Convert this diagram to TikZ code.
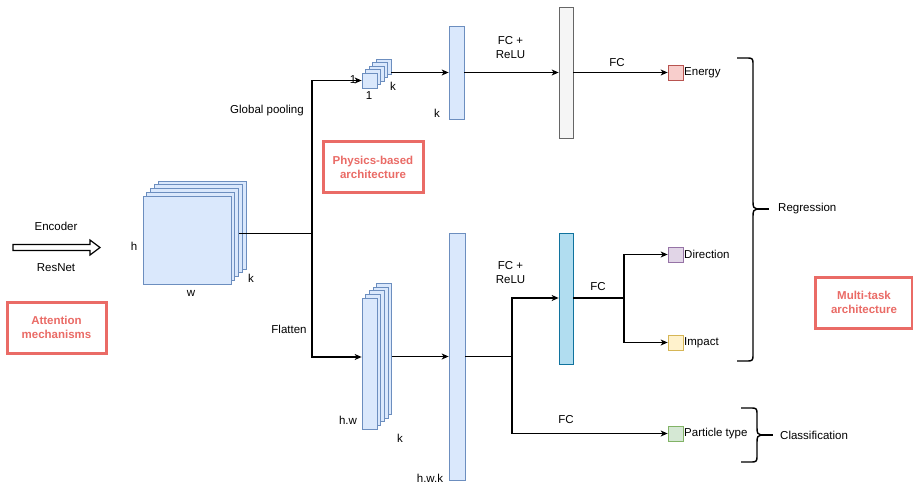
\documentclass[tikz,border=0pt]{standalone}
\usepackage{fontspec}
\setmainfont{Liberation Sans}
\usetikzlibrary{arrows.meta,calc}
\definecolor{bfill}{HTML}{DAE8FC}
\definecolor{bstroke}{HTML}{6C8EBF}
\definecolor{gfill}{HTML}{F5F5F5}
\definecolor{gstroke}{HTML}{666666}
\definecolor{cfill}{HTML}{B1DDF0}
\definecolor{cstroke}{HTML}{10739E}
\definecolor{rfill}{HTML}{F8CECC}
\definecolor{rstroke}{HTML}{B85450}
\definecolor{pfill}{HTML}{E1D5E7}
\definecolor{pstroke}{HTML}{9673A6}
\definecolor{yfill}{HTML}{FFF2CC}
\definecolor{ystroke}{HTML}{D6B656}
\definecolor{nfill}{HTML}{D5E8D4}
\definecolor{nstroke}{HTML}{82B366}
\definecolor{redbox}{HTML}{EA6B66}
\begin{document}
\begin{tikzpicture}[x=1pt,y=-1pt,
  lbl/.style={inner sep=0pt, font=\fontsize{11.5}{14}\selectfont, align=center},
  ln/.style={line width=1.2pt, black, line join=miter},
  arr/.style={ln, -{Stealth[length=7pt,width=6pt,inset=2pt]}},
  sz/.style 2 args={rectangle, inner sep=0pt, minimum width=#1, minimum height=#2},
  layer/.style={draw=bstroke, fill=bfill, line width=0.7pt},
  greybar/.style={draw=gstroke, fill=gfill, line width=0.7pt},
  cyanbar/.style={draw=cstroke, fill=cfill, line width=0.7pt},
  redframe/.style={draw=redbox, line width=3pt, fill=white, sz={99pt}{51pt},
    text=redbox, font=\bfseries\fontsize{11.5}{14}\selectfont, align=center},
  brace/.style={line width=1.4pt, black}
]
\useasboundingbox (0,0) rectangle (913,484);
\clip (0,0) rectangle (913,484);
\fill[white] (0,0) rectangle (913,484);

% encoder arrow
\draw[line width=1.2pt, fill=white] (13,244.5) -- (90,244.5) -- (90,240) -- (100,247.5)
  -- (90,255) -- (90,250.5) -- (13,250.5) -- cycle;
\node[lbl] (enc) at (56,226) {Encoder};
\node[lbl] (res) at (56,268) {ResNet};

\node[redframe] (att) at (56.5,327.5) {Attention\\mechanisms};
\node[redframe, minimum width=100pt] (phys) at (373,167) {Physics-based\\architecture};
\node[redframe, minimum width=97pt] (multi) at (864,302.5) {Multi-task\\architecture};

% big feature map stack
\foreach \i in {4,3,2,1,0}{
  \node[layer, sz={88pt}{88pt}] (m\i) at ({187+3.75*\i},{240-3.75*\i}) {};
}
\node[lbl] (hl) at (134,246) {h};
\node[lbl] (wl) at (191,293) {w};
\node[lbl] (kl) at (251,278) {k};

% junction
\coordinate (j) at (312,233.5);
\draw[ln] (m2.east |- j) -- (j);
\node[lbl] (gp) at (267,111) {Global pooling};
\node[lbl] (fl) at (289,329) {Flatten};

% small pooled stack
\foreach \i in {4,3,2,1,0}{
  \node[layer, sz={15pt}{15pt}] (s\i) at ({369.5+3.5*\i},{80.5-3.5*\i}) {};
}
\draw[arr] (j) |- (s0.west);
\node[lbl] (one1) at (353,80) {1};
\node[lbl] (one2) at (369,96) {1};
\node[lbl] (ks) at (393,86) {k};

% tall flattened stack
\foreach \i in {4,3,2,1,0}{
  \node[layer, sz={15pt}{131pt}] (t\i) at ({369.5+3.7*\i},{363.5-3.7*\i}) {};
}
\draw[arr] (j) |- ([yshift=6.5pt]t0.west);
\node[lbl] (hw) at (348,420) {h.w};
\node[lbl] (kt) at (400,438) {k};

% vectors
\node[layer, sz={15pt}{93pt}] (bar1) at (456.5,72.5) {};
\node[lbl] (kb) at (437,113) {k};
\node[layer, sz={16pt}{247pt}] (bar2) at (457,356.5) {};
\node[lbl] (hwk) at (430,478) {h.w.k};
\node[greybar, sz={14pt}{131pt}] (grey) at (566,72.5) {};
\node[cyanbar, sz={14pt}{131pt}] (cyan) at (566,298.5) {};

\draw[arr] (s4.east |- bar1.west) -- (bar1.west);
\draw[arr] (t4.east |- bar2.west) -- (bar2.west);
\draw[arr] (bar1.east) -- (grey.west);
\node[lbl] (fcr1) at (510.5,48) {FC +\\ReLU};

% outputs
\node[draw=rstroke, fill=rfill, line width=0.7pt, sz={15pt}{15pt}] (energy) at (675.5,72.5) {};
\node[draw=pstroke, fill=pfill, line width=0.7pt, sz={15pt}{15pt}] (dir) at (675.5,254.5) {};
\node[draw=ystroke, fill=yfill, line width=0.7pt, sz={15pt}{15pt}] (imp) at (675.5,342.5) {};
\node[draw=nstroke, fill=nfill, line width=0.7pt, sz={15pt}{15pt}] (part) at (675.5,433.5) {};
\node[lbl, anchor=west] (energyl) at (684,72.5) {Energy};
\node[lbl, anchor=west] (dirl) at (684,254.5) {Direction};
\node[lbl, anchor=west] (impl) at (684,342.5) {Impact};
\node[lbl, anchor=west] (partl) at (684,433.5) {Particle type};

\draw[arr] (grey.east) -- (energy.west);
\node[lbl] (fc1) at (617,63) {FC};

\coordinate (j2) at (512,356.5);
\draw[ln] (bar2.east) -- (j2);
\draw[arr] (j2) |- ([yshift=0.5pt]cyan.west);
\draw[arr] (j2) |- (part.west);
\node[lbl] (fcr2) at (510.5,272.5) {FC +\\ReLU};
\node[lbl] (fc3) at (566,420) {FC};

\coordinate (j3) at (624,298);
\draw[ln] ([yshift=0.5pt]cyan.east) -- (j3);
\draw[arr] (j3) |- (dir.west);
\draw[arr] (j3) |- (imp.west);
\node[lbl] (fc2) at (598,287) {FC};

% braces
\draw[brace] (737,58) -- (748,58) .. controls (752,58) and (753,59) .. (753,63)
  -- (753,202) .. controls (753,207) and (754,209) .. (757,209)
  .. controls (754,209) and (753,211) .. (753,216)
  -- (753,356) .. controls (753,360) and (752,361) .. (748,361) -- (737,361);
\coordinate (regtip) at (757,209);
\coordinate (regend) at (769,209);
\draw[line width=1.4pt] (regtip) -- (regend);
\node[lbl, anchor=west] (reg) at (778,209) {Regression};

\draw[brace] (741,408) -- (752,408) .. controls (756,408) and (757,409) .. (757,413)
  -- (757,428) .. controls (757,433) and (758,435) .. (761,435)
  .. controls (758,435) and (757,437) .. (757,442)
  -- (757,457) .. controls (757,461) and (756,462) .. (752,462) -- (741,462);
\coordinate (clstip) at (761,435);
\coordinate (clsend) at (773,435);
\draw[line width=1.4pt] (clstip) -- (clsend);
\node[lbl, anchor=west] (cls) at (780,435) {Classification};
\end{tikzpicture}
\end{document}
